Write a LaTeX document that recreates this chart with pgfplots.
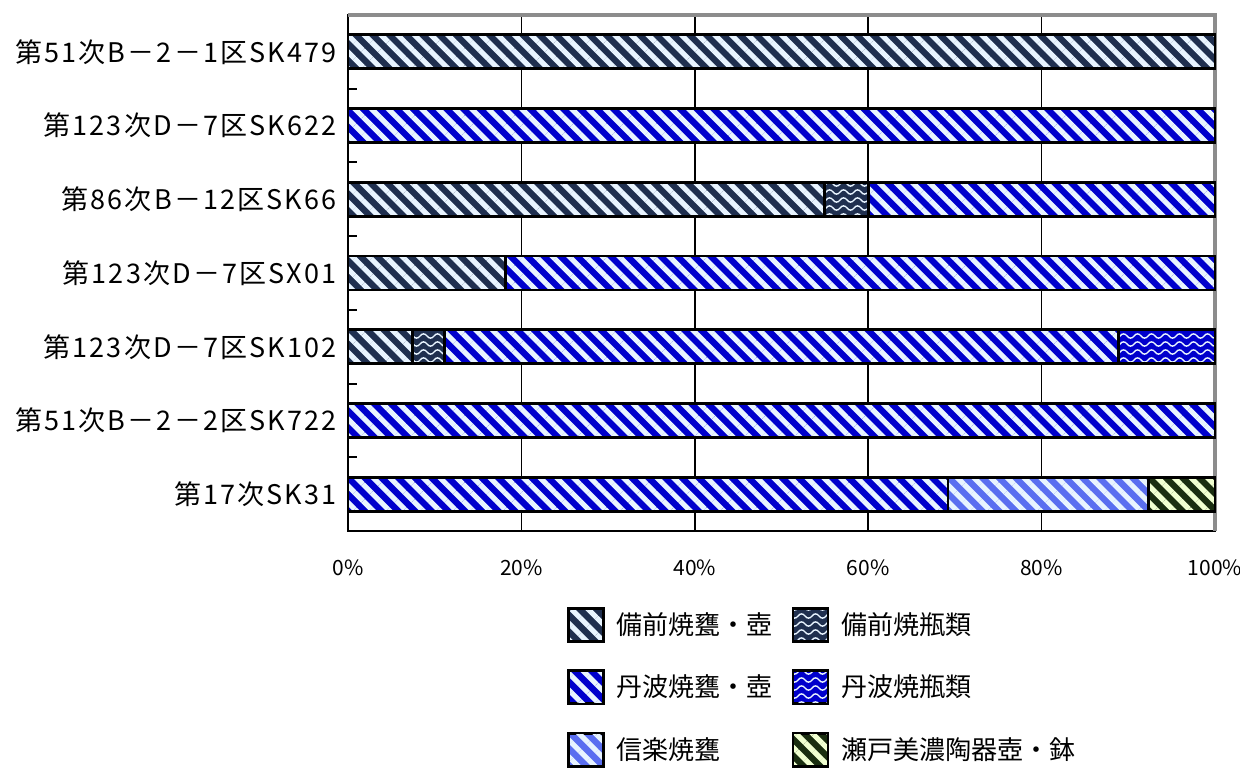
\documentclass[border=0pt]{standalone}
\usepackage{pgfplots}
\pgfplotsset{compat=1.18}
\usepackage{fontspec}
\setmainfont{Noto Sans CJK JP}
\newfontfamily\labfont[LetterSpace=8]{Noto Sans CJK JP}
\usetikzlibrary{patterns,patterns.meta}
\definecolor{bizen}{HTML}{1F2F4F}
\definecolor{tamba}{HTML}{0000CC}
\definecolor{shiga}{HTML}{5A6EF0}
\definecolor{seto}{HTML}{1A2E10}
\definecolor{stripe}{HTML}{E8F4FF}
\definecolor{stripey}{HTML}{F0FFD0}
\definecolor{frame}{HTML}{8C8C8C}
\pgfdeclarepatternformonly{waves}{\pgfqpoint{-1pt}{-1pt}}{\pgfqpoint{8pt}{5pt}}{\pgfqpoint{7pt}{4pt}}{
  \pgfsetlinewidth{0.7pt}
  \pgfpathmoveto{\pgfqpoint{0pt}{2pt}}
  \pgfpathcurveto{\pgfqpoint{0.9pt}{3.4pt}}{\pgfqpoint{2.6pt}{3.4pt}}{\pgfqpoint{3.5pt}{2pt}}
  \pgfpathcurveto{\pgfqpoint{4.4pt}{0.6pt}}{\pgfqpoint{6.1pt}{0.6pt}}{\pgfqpoint{7pt}{2pt}}
  \pgfusepath{stroke}
}
\begin{document}
\begin{tikzpicture}
\path[use as bounding box] (-174pt,-120.5pt) rectangle (446pt,265.5pt);
\begin{axis}[
  name=ax, at={(0pt,0pt)}, anchor=south west,
  scale only axis, width=433.5pt, height=258pt,
  xbar stacked, bar width=17pt,
  xmin=0, xmax=100, ymin=-0.5, ymax=6.5, y dir=reverse,
  axis line style={black, line width=1pt},
  xtick={0,20,40,60,80,100},
  xticklabels={0\%,20\%,40\%,60\%,80\%,100\%},
  xmajorgrids, grid style={black, line width=0.8pt},
  x tick style={draw=none},
  ytick={0,1,2,3,4,5,6},
  yticklabels={第51次B－2－1区SK479,第123次D－7区SK622,第86次B－12区SK66,第123次D－7区SX01,第123次D－7区SK102,第51次B－2－2区SK722,第17次SK31},
  y tick style={draw=none},
  minor ytick={0.5,1.5,2.5,3.5,4.5,5.5},
  minor y tick style={draw=black, line width=1pt},
  minor tick length=4.5pt,
  tick align=inside, ytick pos=left,
  yticklabel style={font=\labfont\fontsize{13.5}{15}\selectfont, inner sep=0pt, xshift=-5.5pt},
  xticklabel style={font=\fontsize{10.5}{12}\selectfont, inner sep=0pt, yshift=-14pt},
  /pgf/number format/assume math mode=true,
  clip=false,
  every axis plot/.append style={draw=black, line width=1.4pt},
  legend image code/.code={\draw[#1, line width=1.2pt] (0pt,-8.25pt) rectangle (17.5pt,8.25pt);},
  legend style={draw=none, fill=none, at={(0.2526,-0.147)}, anchor=north west,
    inner sep=0pt, legend columns=2, font=\fontsize{13}{15}\selectfont,
    /tikz/every even column/.append style={column sep=7.5pt},
    /tikz/every odd column/.append style={column sep=4pt},
    row sep=13.5pt},
  legend cell align=left,
]
\addplot[preaction={fill=bizen}, pattern={Lines[angle=-45,distance=5.9pt,line width=2.6pt]}, pattern color=stripe]
  coordinates {(100,0) (0,1) (55,2) (18.2,3) (7.4,4) (0,5) (0,6)};
\addlegendentry{備前焼甕・壺}
\addplot[preaction={fill=bizen}, pattern=waves, pattern color=stripe]
  coordinates {(0,0) (0,1) (5,2) (0,3) (3.7,4) (0,5) (0,6)};
\addlegendentry{備前焼瓶類}
\addplot[preaction={fill=tamba}, pattern={Lines[angle=-45,distance=5.9pt,line width=2.6pt]}, pattern color=stripe]
  coordinates {(0,0) (100,1) (40,2) (81.8,3) (77.8,4) (100,5) (69.2,6)};
\addlegendentry{丹波焼甕・壺}
\addplot[preaction={fill=tamba}, pattern=waves, pattern color=stripe]
  coordinates {(0,0) (0,1) (0,2) (0,3) (11.1,4) (0,5) (0,6)};
\addlegendentry{丹波焼瓶類}
\addplot[preaction={fill=shiga}, pattern={Lines[angle=-45,distance=5.9pt,line width=2.6pt]}, pattern color=stripe]
  coordinates {(0,0) (0,1) (0,2) (0,3) (0,4) (0,5) (23.1,6)};
\addlegendentry{信楽焼甕}
\addplot[preaction={fill=seto}, pattern={Lines[angle=-45,distance=5.9pt,line width=2.6pt]}, pattern color=stripey]
  coordinates {(0,0) (0,1) (0,2) (0,3) (0,4) (0,5) (7.7,6)};
\addlegendentry{瀬戸美濃陶器壺・鉢}
\draw[frame, line width=1.6pt] (rel axis cs:0,1) -- (rel axis cs:1,1) -- (rel axis cs:1,0);
\end{axis}
\end{tikzpicture}
\end{document}
